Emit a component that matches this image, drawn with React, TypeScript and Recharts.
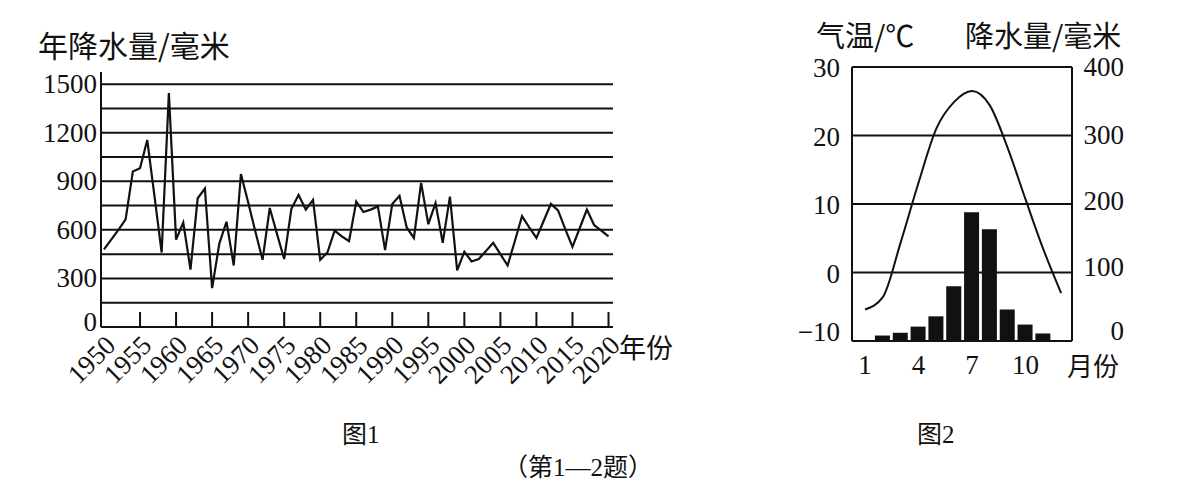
import React from 'react';
import { LineChart, ComposedChart, Line, Bar, XAxis, YAxis, CartesianGrid } from 'recharts';

const SERIF = "'Liberation Serif', 'Noto Sans CJK SC', serif";
const CJK = "'Noto Sans CJK SC', sans-serif";
const INK = '#111';

// Figure 1: yearly precipitation, 1950-2020
const years = Array.from({ length: 71 }, (_, i) => 1950 + i);
const rainfall = [
  480, 540, 600, 665, 960, 980, 1155, 810, 460, 1445,
  540, 645, 355, 795, 855, 240, 515, 650, 380, 945,
  770, 590, 415, 735, 575, 420, 730, 815, 725, 785,
  415, 460, 595, 560, 530, 775, 710, 725, 745, 475,
  760, 810, 615, 550, 890, 635, 765, 520, 805, 350,
  465, 405, 420, 470, 520, 450, 380, 530, 685, 615,
  550, 655, 760, 720, 605, 495, 610, 725, 630, 595,
  560,
];
const yearTicks = [1950, 1955, 1960, 1965, 1970, 1975, 1980, 1985, 1990, 1995, 2000, 2005, 2010, 2015, 2020];
const rainTicks = [0, 150, 300, 450, 600, 750, 900, 1050, 1200, 1350, 1500];

// Figure 2: monthly climate
const months = [1, 2, 3, 4, 5, 6, 7, 8, 9, 10, 11, 12];
const temperature = [-5.4, -3.6, 4.4, 13.1, 21.0, 24.9, 26.5, 24.4, 18.2, 10.7, 3.4, -3.0];
const precipitation = [0, 8, 12, 21, 36, 80, 188, 163, 46, 24, 11, 0];
const monthTicks = [1, 4, 7, 10];
const tempTicks = [-10, 0, 10, 20, 30];
const precipTicks = [0, 100, 200, 300, 400];

const rainData = years.map((year, i) => ({ year, value: rainfall[i] }));
const climateData = months.map((month, i) => ({ month, temp: temperature[i], rain: precipitation[i] }));

const YearTick = (props: any) => {
  const { x, y, payload } = props;
  const tx = x + 13;
  const ty = y + 20;
  return (
    <g>
      {payload.value !== 1950 && <line x1={x} y1={y} x2={x} y2={y - 15} stroke={INK} strokeWidth={2} />}
      <text x={tx} y={ty} transform={`rotate(-45 ${tx} ${ty})`} textAnchor="end" fontSize={27} fontFamily={SERIF} fill={INK}>
        {payload.value}
      </text>
    </g>
  );
};

const RainTick = (props: any) => {
  const { x, y, payload } = props;
  if (payload.value % 300 !== 0) return <g />;
  return (
    <text x={x} y={payload.value === 0 ? y - 5 : y} textAnchor="end" dominantBaseline="central" fontSize={27} fontFamily={SERIF} fill={INK}>
      {payload.value}
    </text>
  );
};

const TempTick = (props: any) => {
  const { x, y, payload } = props;
  const label = payload.value < 0 ? `\u2212${Math.abs(payload.value)}` : `${payload.value}`;
  return (
    <text x={x} y={payload.value === -10 ? y - 9 : y + 1} textAnchor="end" dominantBaseline="central" fontSize={27} fontFamily={SERIF} fill={INK}>
      {label}
    </text>
  );
};

const precipShift: Record<number, number> = { 0: -10, 100: -6, 200: -3, 300: -1, 400: 0 };

const PrecipTick = (props: any) => {
  const { x, y, payload } = props;
  return (
    <text x={x + 52} y={y + (precipShift[payload.value] ?? 0)} textAnchor="end" dominantBaseline="central" fontSize={27} fontFamily={SERIF} fill={INK}>
      {payload.value}
    </text>
  );
};

const MonthTick = (props: any) => {
  const { x, y, payload } = props;
  return (
    <text x={x} y={y + 24} textAnchor="middle" dominantBaseline="central" fontSize={27} fontFamily={SERIF} fill={INK}>
      {payload.value}
    </text>
  );
};

const label = (left: number, top: number, size: number, family: string): React.CSSProperties => ({
  position: 'absolute',
  left,
  top,
  fontSize: size,
  fontFamily: family,
  color: INK,
  lineHeight: 1,
  whiteSpace: 'nowrap',
});

export default function App() {
  return (
    <div style={{ position: 'absolute', left: 0, top: 0, width: 1181, height: 488, background: '#fff', overflow: 'hidden' }}>
      <div style={{ position: 'absolute', left: 0, top: 0 }}>
        <LineChart width={700} height={400} data={rainData} margin={{ top: 72, right: 87, bottom: 13, left: 0 }}>
          <CartesianGrid vertical={false} horizontalValues={rainTicks} stroke={INK} strokeWidth={2} />
          <XAxis
            dataKey="year"
            type="number"
            domain={[1949.584, 2020.624]}
            ticks={yearTicks}
            interval={0}
            height={60}
            tickSize={0}
            tickMargin={0}
            tick={<YearTick />}
            axisLine={{ stroke: INK, strokeWidth: 2 }}
            tickLine={false}
            allowDataOverflow
          />
          <YAxis
            domain={[0, 1575]}
            ticks={rainTicks}
            interval={0}
            width={101}
            tickSize={0}
            tickMargin={4}
            tick={<RainTick />}
            axisLine={{ stroke: INK, strokeWidth: 2 }}
            tickLine={false}
            allowDataOverflow
          />
          <Line type="linear" dataKey="value" stroke={INK} strokeWidth={2.2} dot={false} isAnimationActive={false} />
        </LineChart>
      </div>

      <div style={{ position: 'absolute', left: 700, top: 0 }}>
        <ComposedChart width={481} height={400} data={climateData} margin={{ top: 67, right: 49, bottom: 9, left: 92 }}>
          <CartesianGrid vertical={false} yAxisId="t" stroke={INK} strokeWidth={2} />
          <XAxis
            dataKey="month"
            type="number"
            domain={[0.27, 12.61]}
            ticks={monthTicks}
            interval={0}
            height={50}
            tickSize={0}
            tickMargin={0}
            tick={<MonthTick />}
            axisLine={{ stroke: INK, strokeWidth: 2 }}
            tickLine={false}
            allowDataOverflow
          />
          <YAxis
            yAxisId="t"
            domain={[-10, 30]}
            ticks={tempTicks}
            interval={0}
            width={60}
            tickSize={0}
            tickMargin={12}
            tick={<TempTick />}
            axisLine={{ stroke: INK, strokeWidth: 2 }}
            tickLine={false}
          />
          <YAxis
            yAxisId="p"
            orientation="right"
            domain={[0, 400]}
            ticks={precipTicks}
            interval={0}
            width={60}
            tickSize={0}
            tickMargin={0}
            tick={<PrecipTick />}
            axisLine={{ stroke: INK, strokeWidth: 2 }}
            tickLine={false}
          />
          <Bar yAxisId="p" dataKey="rain" fill={INK} barSize={15} isAnimationActive={false} />
          <Line yAxisId="t" type="monotone" dataKey="temp" stroke={INK} strokeWidth={2} dot={false} isAnimationActive={false} />
        </ComposedChart>
      </div>

      <div style={label(38, 29, 30, CJK)}>年降水量/毫米</div>
      <div style={label(619, 333, 27, CJK)}>年份</div>
      <div style={label(816, 20, 29, CJK)}>气温/℃</div>
      <div style={label(965, 20, 29, CJK)}>降水量/毫米</div>
      <div style={label(1067, 352, 26, CJK)}>月份</div>
      <div style={label(342, 422, 25, SERIF)}>图1</div>
      <div style={label(917, 422, 25, SERIF)}>图2</div>
      <div style={label(503, 455, 25, SERIF)}>（第1—2题）</div>
    </div>
  );
}
